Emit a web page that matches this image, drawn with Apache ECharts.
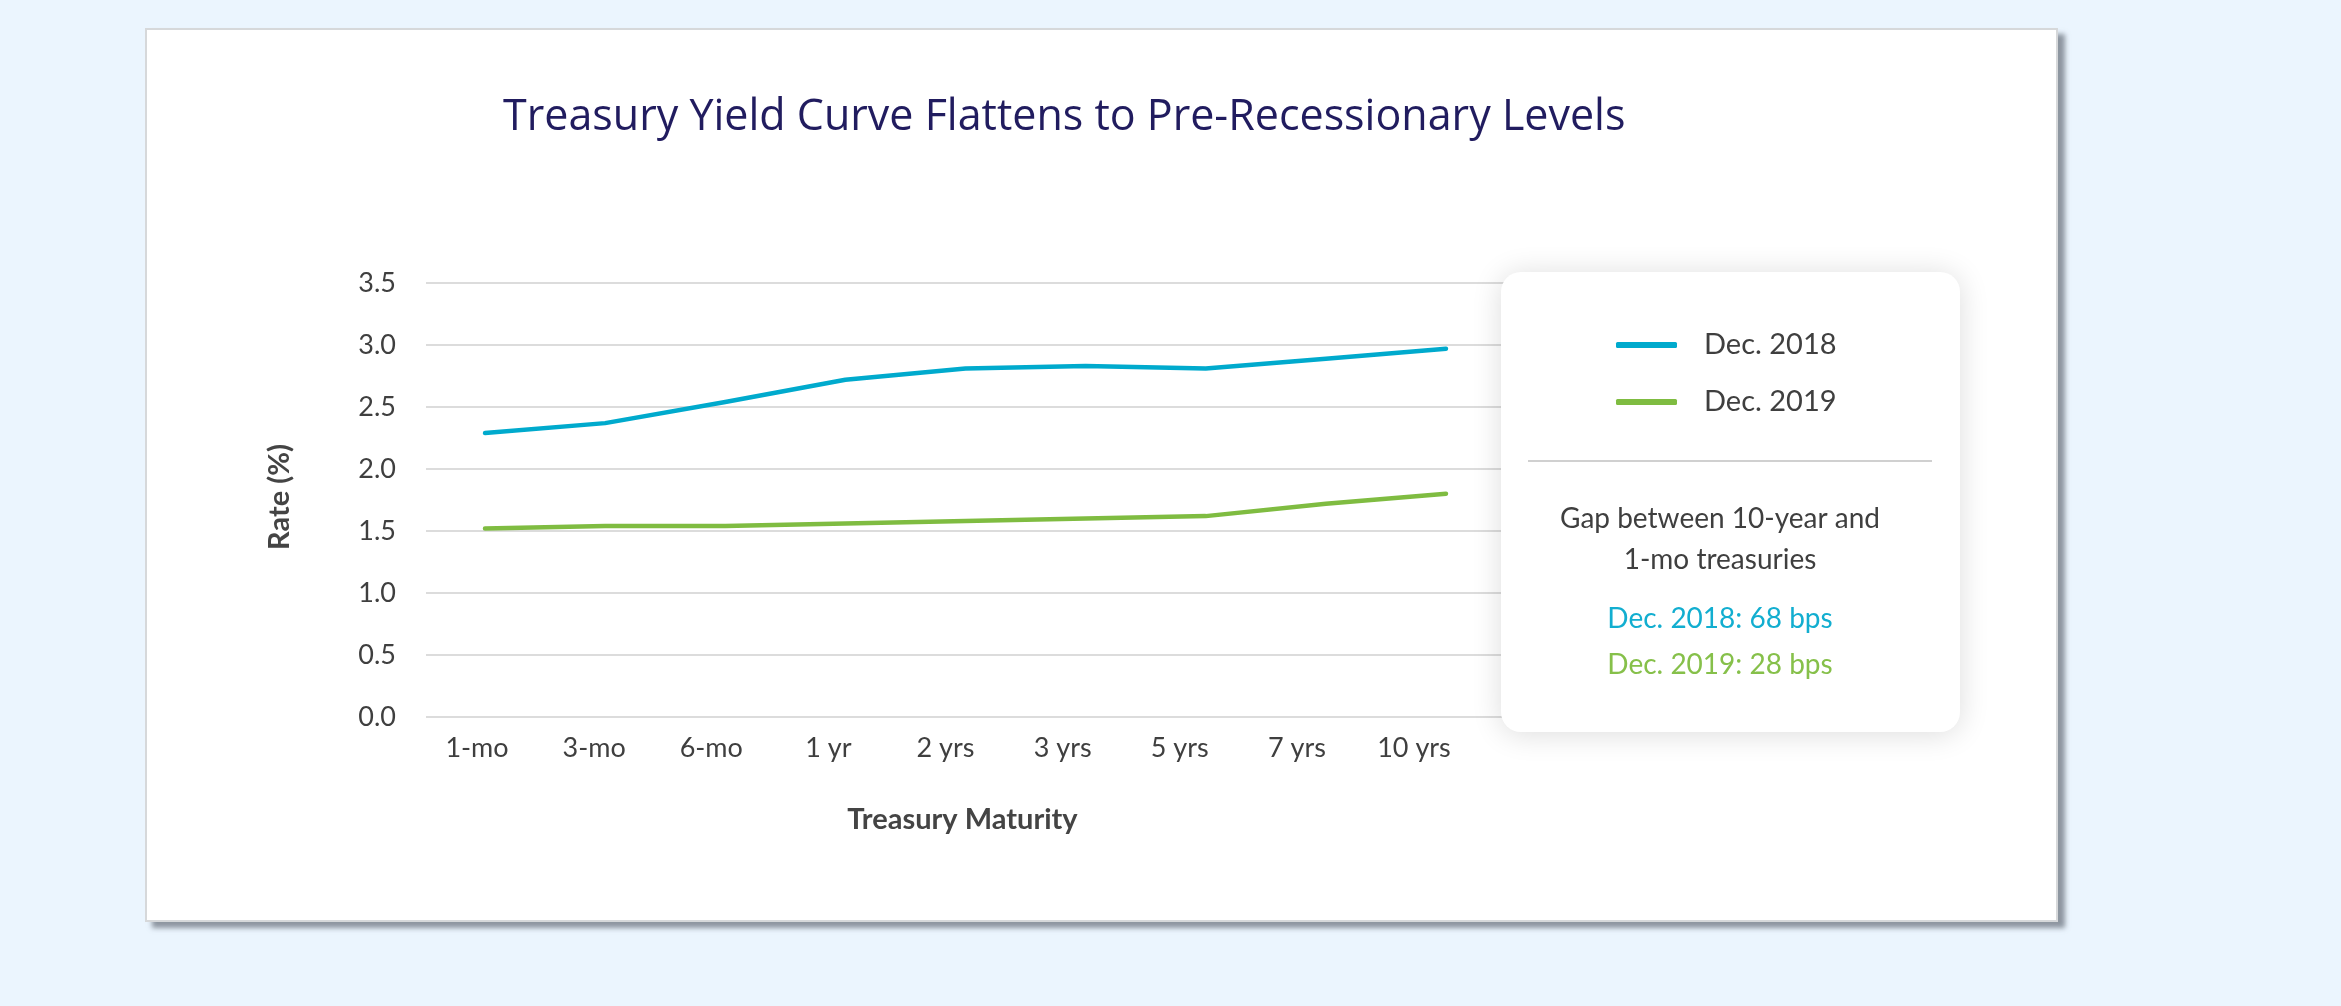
<!DOCTYPE html>
<html>
<head>
<meta charset="utf-8">
<title>Treasury Yield Curve</title>
<script src="https://cdn.jsdelivr.net/npm/echarts@6/dist/echarts.min.js"></script>
<style>
  html, body { margin: 0; padding: 0; width: 2341px; height: 1006px; overflow: hidden; background: #ebf5fe; }
  #card {
    position: absolute; left: 145px; top: 28px; width: 1909px; height: 890px;
    background: #ffffff; border: 2px solid #d6d8da;
    box-shadow: 7px 6px 5px rgba(110, 118, 128, 0.75);
  }
  #chart { position: absolute; left: 0; top: 0; width: 2341px; height: 1006px; }
</style>
</head>
<body>
<div id="card"></div>
<div id="chart"></div>
<script>
// Maturities along the x axis
const maturities = ['1-mo', '3-mo', '6-mo', '1 yr', '2 yrs', '3 yrs', '5 yrs', '7 yrs', '10 yrs'];
// Yields (%) at each maturity
const dec2018 = [2.29, 2.37, 2.54, 2.72, 2.81, 2.83, 2.81, 2.89, 2.97];
const dec2019 = [1.52, 1.54, 1.54, 1.56, 1.58, 1.60, 1.62, 1.72, 1.80];
const seriesNames = ['Dec. 2018', 'Dec. 2019'];
const seriesColors = ['#00aacd', '#7fbc41'];
// Rate axis ticks
const rateMin = 0, rateMax = 3.5, rateStep = 0.5;

// 10-year minus 1-month spread, in basis points
const spreadBps = arr => Math.round((arr[arr.length - 1] - arr[0]) * 100);

const FONT = 'Lato, "Noto Sans", sans-serif';
const TEXT = '#3f3f3f';

const chart = echarts.init(document.getElementById('chart'), null, { renderer: 'canvas' });

const toPoints = arr => arr.map((v, i) => [i, v]);

chart.setOption({
  backgroundColor: 'transparent',
  animation: false,
  title: {
    text: 'Treasury Yield Curve Flattens to Pre-Recessionary Levels',
    left: 498, top: 91,
    textStyle: { fontFamily: '"Open Sans", sans-serif', fontSize: 43, fontWeight: 'normal', color: '#211c5f' }
  },
  legend: {
    data: seriesNames,
    orient: 'vertical',
    left: 1611, top: 325,
    itemWidth: 61, itemHeight: 6,
    itemGap: 27,
    icon: 'roundRect',
    z: 20,
    textStyle: { fontFamily: FONT, fontSize: 29, color: TEXT, padding: [0, 0, 0, 22], lineHeight: 30 }
  },
  grid: [
    { left: 426, top: 283, width: 1114, height: 434 },
    { left: 477, top: 716, width: 937, height: 1 }
  ],
  xAxis: [
    { type: 'value', gridIndex: 0, min: -0.4913, max: 8.7827, show: false },
    {
      type: 'category', gridIndex: 1, data: maturities, boundaryGap: false,
      axisLine: { show: false }, axisTick: { show: false }, splitLine: { show: false },
      axisLabel: { fontFamily: FONT, fontSize: 27, color: TEXT, margin: 18 },
      name: 'Treasury Maturity', nameLocation: 'middle', nameGap: 88,
      nameTextStyle: { fontFamily: FONT, fontSize: 29, fontWeight: 'bold', color: '#444444', padding: [0, 0, 0, 34] }
    }
  ],
  yAxis: [
    {
      type: 'value', gridIndex: 0, min: rateMin, max: rateMax, interval: rateStep,
      axisLine: { show: false }, axisTick: { show: false },
      splitLine: { lineStyle: { color: '#dcdcdc', width: 2 } },
      axisLabel: { fontFamily: FONT, fontSize: 27, color: TEXT, margin: 30, formatter: v => v.toFixed(1) },
      name: 'Rate (%)', nameLocation: 'middle', nameGap: 132, nameRotate: 90,
      nameTextStyle: { fontFamily: FONT, fontSize: 29, fontWeight: 'bold', color: '#444444', padding: [0, 0, 0, 6] }
    },
    { type: 'value', gridIndex: 1, show: false }
  ],
  series: [dec2018, dec2019].map((arr, k) => ({
    name: seriesNames[k],
    type: 'line',
    xAxisIndex: 0, yAxisIndex: 0,
    data: toPoints(arr),
    symbol: 'none',
    color: seriesColors[k],
    lineStyle: { width: 4.5, color: seriesColors[k], cap: 'round', join: 'round' }
  })),
  graphic: [
    {
      type: 'rect', z: 5,
      shape: { x: 1501, y: 272, width: 459, height: 460, r: 20 },
      style: { fill: '#ffffff', shadowBlur: 30, shadowColor: 'rgba(0,0,0,0.14)', shadowOffsetY: 2 }
    },
    {
      type: 'line', z: 6,
      shape: { x1: 1528, y1: 461, x2: 1932, y2: 461 },
      style: { stroke: '#d0d0d0', lineWidth: 2 }
    },
    {
      type: 'text', z: 6, x: 1720, y: 519,
      style: { text: 'Gap between 10-year and', font: '28px ' + FONT, fill: TEXT, align: 'center', verticalAlign: 'middle' }
    },
    {
      type: 'text', z: 6, x: 1720, y: 560,
      style: { text: '1-mo treasuries', font: '28px ' + FONT, fill: TEXT, align: 'center', verticalAlign: 'middle' }
    },
    {
      type: 'text', z: 6, x: 1720, y: 619,
      style: { text: seriesNames[0] + ': ' + spreadBps(dec2018) + ' bps', font: '28px ' + FONT, fill: '#12aed0', align: 'center', verticalAlign: 'middle' }
    },
    {
      type: 'text', z: 6, x: 1720, y: 665,
      style: { text: seriesNames[1] + ': ' + spreadBps(dec2019) + ' bps', font: '28px ' + FONT, fill: '#86c04a', align: 'center', verticalAlign: 'middle' }
    }
  ]
});
</script>
</body>
</html>
